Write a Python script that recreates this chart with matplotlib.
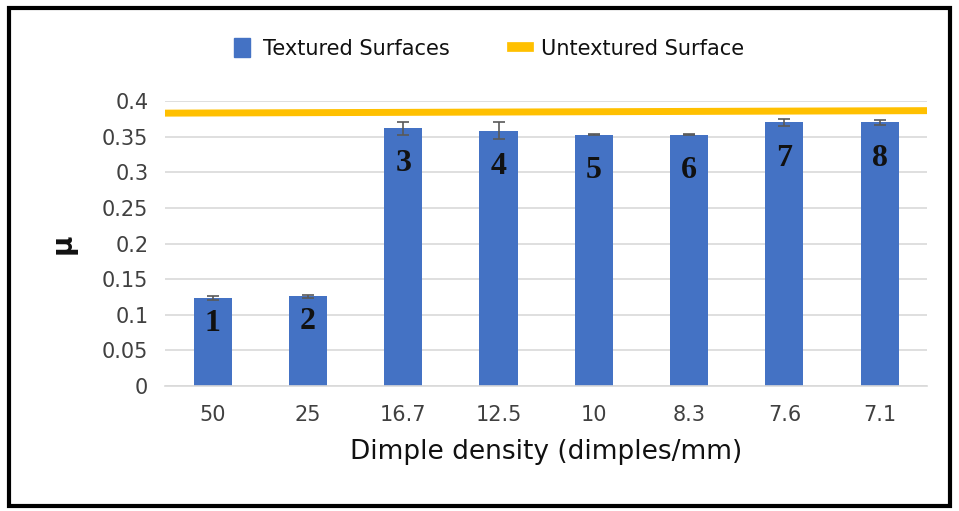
import numpy as np
import matplotlib.pyplot as plt
from matplotlib.patches import Rectangle
from matplotlib.lines import Line2D
from matplotlib import font_manager

# data
densities = ["50", "25", "16.7", "12.5", "10", "8.3", "7.6", "7.1"]
mu_textured = [0.1235, 0.126, 0.362, 0.358, 0.353, 0.353, 0.370, 0.370]
mu_err = [0.003, 0.002, 0.009, 0.012, 0.001, 0.001, 0.005, 0.003]
mu_untextured = [0.383, 0.3835, 0.384, 0.3845, 0.385, 0.3855, 0.386, 0.3865]
sample_ids = ["1", "2", "3", "4", "5", "6", "7", "8"]

names = {f.name for f in font_manager.fontManager.ttflist}
narrow = [f for f in ["Liberation Sans Narrow", "DejaVu Sans Condensed"] if f in names]
plt.rcParams['font.family'] = narrow + ["DejaVu Sans"]

blue = "#4472c4"
gold = "#ffc000"

fig = plt.figure(figsize=(9.59, 5.11), dpi=100)
ax = fig.add_axes([0.172, 0.2446, 0.795, 0.5577])

x = np.arange(len(densities))
ax.bar(x, mu_textured, width=0.4, color=blue, zorder=2)
ax.errorbar(x, mu_textured, yerr=mu_err, fmt="none", ecolor="#595959",
            elinewidth=1.2, capsize=4, capthick=1.2, zorder=3)

# untextured reference line spans the whole category range
xl = np.linspace(-0.5, 7.5, len(mu_untextured))
ax.plot(xl, mu_untextured, color=gold, lw=5, zorder=4, solid_capstyle="butt")

for xi, top, sid in zip(x, mu_textured, sample_ids):
    off = 0.036 if top < 0.2 else 0.05
    ax.text(xi, top - off, sid, ha="center", va="center", fontsize=23,
            fontweight="bold", family="Liberation Serif", color="#111111", zorder=5)

ax.set_xlim(-0.5, 7.5)
ax.set_ylim(0, 0.4)
ax.set_yticks(np.arange(0, 0.401, 0.05))
ax.set_yticklabels(["0", "0.05", "0.1", "0.15", "0.2", "0.25", "0.3", "0.35", "0.4"])
ax.set_xticks(x)
ax.set_xticklabels(densities)
ax.tick_params(length=0, labelsize=15, colors="#404040", pad=14)
ax.tick_params(axis="y", pad=12)
ax.yaxis.grid(True, color="#d9d9d9", lw=1.2, zorder=0)
ax.set_axisbelow(True)
for s in ["top", "right", "left"]:
    ax.spines[s].set_visible(False)
ax.spines["bottom"].set_color("#d9d9d9")
ax.spines["bottom"].set_linewidth(1.2)

ax.set_xlabel("Dimple density (dimples/mm)", fontsize=19, color="#111111", labelpad=10)
ax.set_ylabel("µ", fontsize=20, fontweight="bold", color="#111111", labelpad=18)

handles = [Rectangle((0, 0), 1, 1, color=blue),
           Line2D([0], [0], color=gold, lw=7)]
leg = fig.legend(handles, ["Textured Surfaces", "Untextured Surface"], loc="center",
                 bbox_to_anchor=(0.51, 0.905), ncol=2, frameon=False, fontsize=15,
                 handlelength=0.8, handleheight=1.0, columnspacing=3.0, handletextpad=0.6)
for t in leg.get_texts():
    t.set_color("#111111")

# outer frame
fig.patches.append(Rectangle((0.009, 0.01), 0.982, 0.975, transform=fig.transFigure,
                             fill=False, ec="black", lw=3))

fig.savefig("out.png", dpi=100)
